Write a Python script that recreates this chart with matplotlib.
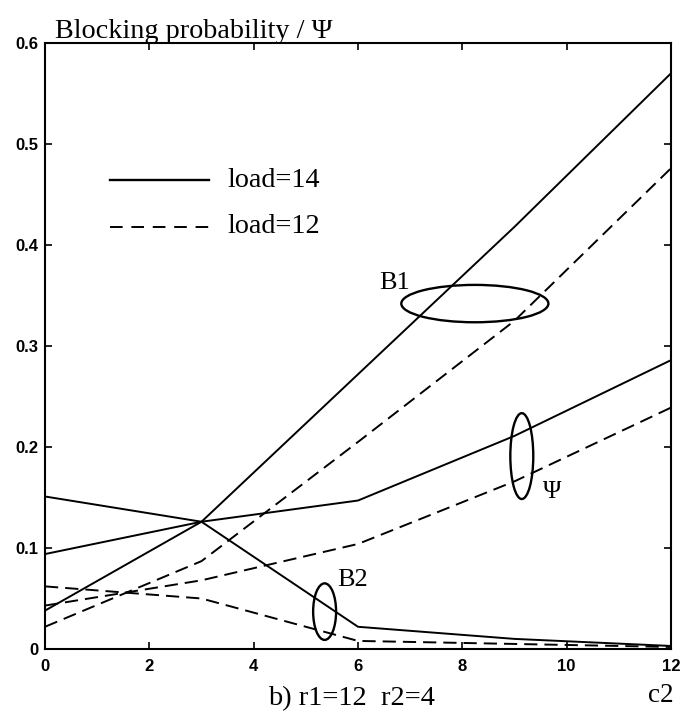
import matplotlib
matplotlib.use("Agg")
import matplotlib.pyplot as plt
from matplotlib.patches import Ellipse
from matplotlib.ticker import FuncFormatter

# ---- data ----
c2 = [0, 3, 6, 9, 12]
b1_load14 = [0.038, 0.126, 0.272, 0.418, 0.570]
b1_load12 = [0.022, 0.087, 0.205, 0.325, 0.476]
psi_load14 = [0.094, 0.126, 0.147, 0.211, 0.286]
psi_load12 = [0.043, 0.068, 0.104, 0.166, 0.239]
b2_load14 = [0.151, 0.126, 0.022, 0.010, 0.003]
b2_load12 = [0.062, 0.050, 0.008, 0.005, 0.002]

x_ticks = [0, 2, 4, 6, 8, 10, 12]
y_ticks = [0, 0.1, 0.2, 0.3, 0.4, 0.5, 0.6]

serif = ["Liberation Serif", "DejaVu Serif"]
sans = ["Liberation Sans Narrow", "Liberation Sans", "DejaVu Sans"]

fig = plt.figure(figsize=(6.97, 7.16), dpi=100)
ax = fig.add_axes([45/697, 1-649/716, (671-45)/697, (649-43)/716])

lw = 1.4
dash = (0, (6.8, 3.6))
ax.plot(c2, b1_load14, color="black", lw=lw)
ax.plot(c2, psi_load14, color="black", lw=lw)
ax.plot(c2, b2_load14, color="black", lw=lw)
ax.plot(c2, b1_load12, color="black", lw=lw, linestyle=dash)
ax.plot(c2, psi_load12, color="black", lw=lw, linestyle=dash)
ax.plot(c2, b2_load12, color="black", lw=lw, linestyle=dash)

# legend drawn manually
ax.plot([1.25, 3.15], [0.464, 0.464], color="black", lw=1.7)
ax.plot([1.25, 3.15], [0.418, 0.418], color="black", lw=1.4, linestyle=(0, (6.5, 4.5)))
ax.text(3.5, 0.464, "load=14", fontsize=20.3, family=serif, va="center", ha="left")
ax.text(3.5, 0.418, "load=12", fontsize=20.3, family=serif, va="center", ha="left")

# ellipses and labels
ax.add_patch(Ellipse((8.24, 0.342), 2.82, 0.037, fill=False, lw=1.7, ec="black"))
ax.text(6.4, 0.362, "B1", fontsize=19, family=serif, va="center", ha="left")
ax.add_patch(Ellipse((9.14, 0.191), 0.44, 0.085, fill=False, lw=1.7, ec="black"))
ax.text(9.55, 0.155, "Ψ", fontsize=18, family=serif, va="center", ha="left")
ax.add_patch(Ellipse((5.36, 0.037), 0.44, 0.056, fill=False, lw=1.7, ec="black"))
ax.text(5.6, 0.068, "B2", fontsize=19, family=serif, va="center", ha="left")

ax.set_xlim(0, 12)
ax.set_ylim(0, 0.6)
ax.set_xticks(x_ticks)
ax.set_yticks(y_ticks)
ax.yaxis.set_major_formatter(FuncFormatter(lambda v, p: "0" if v == 0 else f"{v:.1f}"))
ax.tick_params(direction="in", length=5, width=1.2, top=True, right=True,
               labeltop=False, labelright=False)
ax.tick_params(axis="x", pad=7)
ax.tick_params(axis="y", pad=5)
for lab in ax.get_xticklabels() + ax.get_yticklabels():
    lab.set_family(sans)
    lab.set_fontsize(12)
    lab.set_fontweight("bold")
for s in ax.spines.values():
    s.set_linewidth(1.5)

fig.text(55/697, 1-38/716, "Blocking probability / Ψ", fontsize=20.3, family=serif,
         ha="left", va="baseline")
fig.text(352/697, 1-705/716, "b) r1=12  r2=4", fontsize=20.5, family=serif,
         ha="center", va="baseline")
fig.text(661/697, 1-702/716, "c2", fontsize=19.5, family=serif,
         ha="center", va="baseline")

fig.savefig("out.png", dpi=100)
